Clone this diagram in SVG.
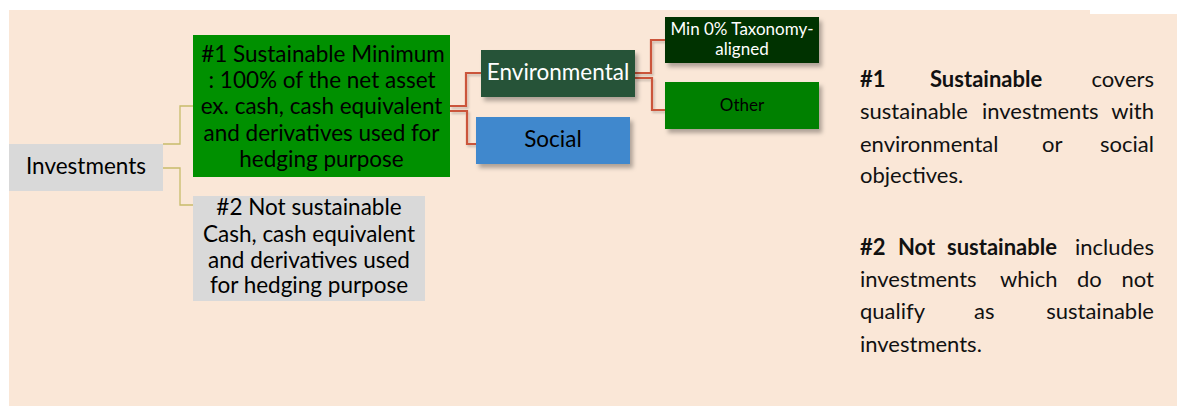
<svg xmlns="http://www.w3.org/2000/svg" width="1179" height="406" viewBox="0 0 1179 406">
<defs>
<filter id="sh" x="-10%" y="-20%" width="130%" height="160%">
<feDropShadow dx="3" dy="4" stdDeviation="2.2" flood-color="#000" flood-opacity="0.3"/>
</filter>
<filter id="lsh" x="-20%" y="-20%" width="150%" height="150%">
<feDropShadow dx="1.5" dy="2" stdDeviation="1" flood-color="#000" flood-opacity="0.2"/>
</filter>
</defs>
<style>
text{font-family:Lato,"Liberation Sans",sans-serif;}
.c{text-anchor:middle;}
.m{font-size:22.5px;fill:#000;}
.s{font-size:17px;}
.r{font-size:22px;fill:#111;}
.b{font-weight:bold;}
.e{text-anchor:end;}
.y{fill:none;stroke:#C8BC6B;stroke-width:1.3;}
.o{fill:none;stroke:#CB553A;stroke-width:2.2;}
</style>
<path d="M9,10 H1090 V14 H1177 V406 H9 Z" fill="#FAE7D7"/>
<g id="connectors">
<path class="y" d="M163,144 H180 V106 H193"/>
<path class="y" d="M163,168 H180 V205 H193"/>
<g filter="url(#lsh)">
<path class="o" d="M450,106 H466 V73 H481"/>
<path class="o" d="M450,111 H467 V144 H476"/>
<path class="o" d="M635,73 H651 V40 H665"/>
<path class="o" d="M635,78 H652 V110 H665"/>
</g>
</g>
<g id="investments">
<rect x="9" y="144" width="154" height="47" fill="#D9D9D9"/>
<text class="m c" x="86" y="174">Investments</text>
</g>
<g id="sustainable">
<rect x="193" y="35" width="257" height="142" fill="#009000"/>
<text class="m c" x="323" y="61.5">#1 Sustainable Minimum</text>
<text class="m c" x="322" y="88">: 100% of the net asset</text>
<text class="m c" x="321.5" y="114">ex. cash, cash equivalent</text>
<text class="m c" x="321.5" y="141">and derivatives used for</text>
<text class="m c" x="321.5" y="167">hedging purpose</text>
</g>
<g id="not-sustainable">
<rect x="193" y="196" width="232" height="105" fill="#D9D9D9"/>
<text class="m c" x="309" y="215">#2 Not sustainable</text>
<text class="m c" x="309" y="242">Cash, cash equivalent</text>
<text class="m c" x="309" y="268">and derivatives used</text>
<text class="m c" x="309" y="293">for hedging purpose</text>
</g>
<g id="environmental">
<rect x="481" y="50" width="154" height="47" fill="#255338" filter="url(#sh)"/>
<text class="m c" x="558" y="80" style="fill:#fff">Environmental</text>
</g>
<g id="social">
<rect x="476" y="117" width="154" height="47" fill="#3F88CD" filter="url(#sh)"/>
<text class="m c" x="553" y="147">Social</text>
</g>
<g id="taxonomy">
<rect x="665" y="17" width="154" height="46" fill="#003300" filter="url(#sh)"/>
<text class="s c" x="742" y="35" style="fill:#fff">Min 0% Taxonomy-</text>
<text class="s c" x="742" y="55" style="fill:#fff">aligned</text>
</g>
<g id="other">
<rect x="665" y="82" width="154" height="47" fill="#008000" filter="url(#sh)"/>
<text class="s c" x="742" y="111" style="fill:#000">Other</text>
</g>
<g id="legend">
<text class="r b" x="860" y="87">#1</text>
<text class="r b" x="930" y="87">Sustainable</text>
<text class="r e" x="1154" y="87">covers</text>
<text class="r" x="860" y="119">sustainable</text>
<text class="r" x="982" y="119">investments</text>
<text class="r e" x="1154" y="119">with</text>
<text class="r" x="860" y="152">environmental</text>
<text class="r" x="1042" y="152">or</text>
<text class="r e" x="1154" y="152">social</text>
<text class="r" x="860" y="183">objectives.</text>
<text class="r b" x="860" y="255">#2</text>
<text class="r b" x="898" y="255">Not</text>
<text class="r b" x="947" y="255">sustainable</text>
<text class="r e" x="1154" y="255">includes</text>
<text class="r" x="860" y="287">investments</text>
<text class="r" x="1000" y="287">which</text>
<text class="r" x="1077" y="287">do</text>
<text class="r e" x="1154" y="287">not</text>
<text class="r" x="860" y="319">qualify</text>
<text class="r" x="974" y="319">as</text>
<text class="r e" x="1154" y="319">sustainable</text>
<text class="r" x="860" y="352">investments.</text>
</g>
</svg>
